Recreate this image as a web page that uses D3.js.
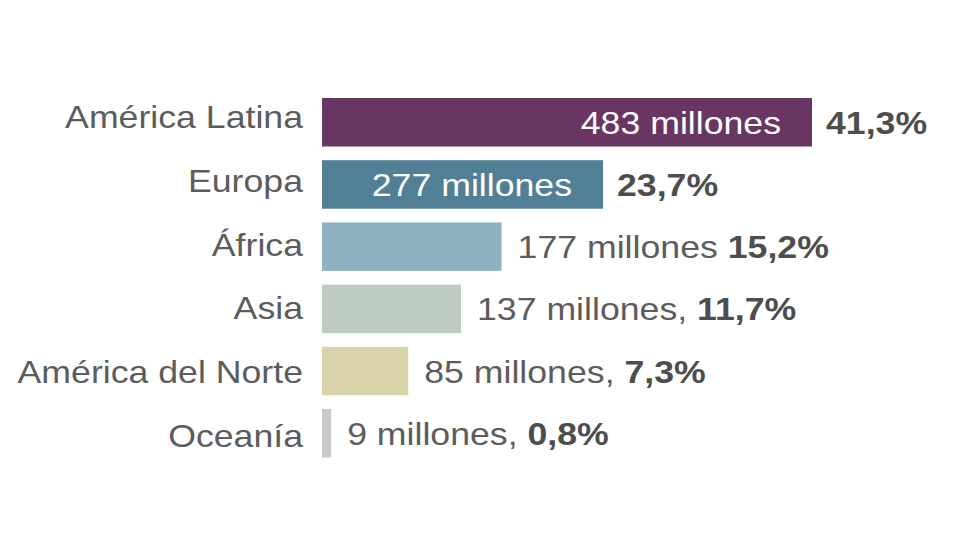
<!DOCTYPE html>
<html>
<head>
<meta charset="utf-8">
<script src="https://cdn.jsdelivr.net/npm/d3@7"></script>
<style>
  html, body { margin: 0; padding: 0; background: #fff; }
  svg { display: block; }
  text { font-family: "Liberation Sans", Arial, Helvetica, sans-serif; }
</style>
</head>
<body>
<svg id="chart" width="970" height="546"></svg>
<script>
// Data
const categories = ["América Latina", "Europa", "África", "Asia", "América del Norte", "Oceanía"];
const values = [483, 277, 177, 137, 85, 9];
const valueLabels = ["483 millones", "277 millones", "177 millones", "137 millones,", "85 millones,", "9 millones,"];
const percentLabels = ["41,3%", "23,7%", "15,2%", "11,7%", "7,3%", "0,8%"];
const insideFlags = [true, true, false, false, false, false];
const colors = ["#693563", "#507f96", "#8db3c3", "#bdcbc0", "#d9d3ab", "#c9c9c9"];

const svg = d3.select("#chart");
const SX = 1.115; // horizontal stretch of the original picture
const FS = 32;

const x = d3.scaleLinear().domain([0, 483]).range([322, 812]);
const y = d3.scaleBand().domain(categories).range([98, 457.5]).paddingInner(0.22).paddingOuter(0);
const yLabel = d3.scalePoint().domain(categories).range([128, 447]);

const data = categories.map((c, i) => ({
  cat: c, v: values[i], vl: valueLabels[i], pl: percentLabels[i], inside: insideFlags[i], color: colors[i]
}));

// bars
svg.append("g").selectAll("rect").data(data).join("rect")
  .attr("x", x(0))
  .attr("y", d => y(d.cat))
  .attr("width", d => x(d.v) - x(0))
  .attr("height", y.bandwidth())
  .attr("fill", d => d.color);

// helper for stretched text
function stretchedText(g, tx, ty, anchor) {
  return g.append("text")
    .attr("transform", `translate(${tx},${ty}) scale(${SX},1)`)
    .attr("text-anchor", anchor)
    .attr("font-size", FS);
}

// category labels
const catG = svg.append("g");
data.forEach(d => {
  stretchedText(catG, 303, yLabel(d.cat), "end")
    .attr("fill", "#5c5c5c")
    .text(d.cat);
});

// value labels
const valG = svg.append("g");
data.forEach(d => {
  const base = y(d.cat) + y.bandwidth() / 2 + 11.5;
  if (d.inside) {
    stretchedText(valG, x(d.v) - 31, base, "end")
      .attr("fill", "#ffffff")
      .text(d.vl);
    stretchedText(valG, x(d.v) + 14, base, "start")
      .attr("fill", "#4d4d4d")
      .attr("font-weight", "bold")
      .text(d.pl);
  } else {
    const t = stretchedText(valG, x(d.v) + 16, base, "start");
    t.append("tspan").attr("fill", "#5c5c5c").text(d.vl + " ");
    t.append("tspan").attr("fill", "#4d4d4d").attr("font-weight", "bold").text(d.pl);
  }
});
</script>
</body>
</html>
